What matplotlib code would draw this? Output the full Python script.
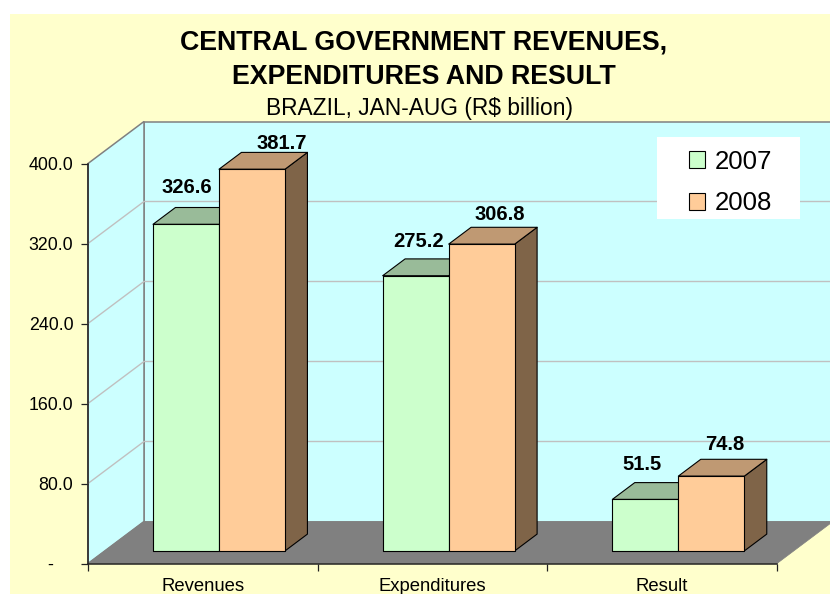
import matplotlib
matplotlib.use("Agg")
import matplotlib.pyplot as plt
from matplotlib.patches import Polygon, Rectangle

plt.rcParams['font.family'] = ['Liberation Sans', 'DejaVu Sans']

categories = ['Revenues', 'Expenditures', 'Result']
series_names = ['2007', '2008']
values_2007 = [326.6, 275.2, 51.5]
values_2008 = [381.7, 306.8, 74.8]
y_ticks = [0, 80, 160, 240, 320, 400]
y_tick_labels = ['-    ', '80.0', '160.0', '240.0', '320.0', '400.0']
title_lines = ['CENTRAL GOVERNMENT REVENUES,', 'EXPENDITURES AND RESULT']
subtitle = 'BRAZIL, JAN-AUG (R$ billion)'

W, H = 830, 594
CAT_PX = 689 / 3          # pixels per category
X0_PX, Y0_PX = 88, 563.5  # pixel position of the chart origin
DEPTH_DX = 56 / CAT_PX    # oblique offset of the back wall, in category units
DEPTH_DY = 42             # in value units (1 unit = 1 px)
BAR_W = 66 / CAT_PX
BAR_SHIFT = -0.6 / CAT_PX
BAR_DEPTH = (0.30, 0.70)  # front/back of the bars, as a share of floor depth

YELLOW, WALL, FLOOR = '#FFFFCC', '#CCFFFF', '#808080'
FRONT = ['#CCFFCC', '#FFCC99']
TOP = ['#99BB99', '#BF9973']
SIDE = ['#7F9A7F', '#7F6448']
GRID = '#C0C0C0'
DARK = '#222222'


def P(x, v, d=0.0):
    return (x + d * DEPTH_DX, v + d * DEPTH_DY)


fig = plt.figure(figsize=(W / 100, H / 100), dpi=100, facecolor='white')
fig.patches.append(Rectangle((10 / W, 0), 1 - 10 / W, 1 - 14 / H, transform=fig.transFigure,
                             facecolor=YELLOW, edgecolor='none', zorder=-5))
ax = fig.add_axes([0, 0, 1, 1])
ax.patch.set_visible(False)
ax.set_xlim(-X0_PX / CAT_PX, (W - X0_PX) / CAT_PX)
ax.set_ylim(Y0_PX - H, Y0_PX)

n = len(categories)
vmax = y_ticks[-1]
# back wall, side wall, floor
ax.add_patch(Polygon([P(0, 0, 1), P(n, 0, 1), P(n, vmax, 1), P(0, vmax, 1)],
                     facecolor=WALL, edgecolor=FLOOR, lw=1.1, zorder=1))
ax.add_patch(Polygon([P(0, 0), P(0, vmax), P(0, vmax, 1), P(0, 0, 1)],
                     facecolor=WALL, edgecolor=FLOOR, lw=1.1, zorder=1))
for t in y_ticks[1:-1]:
    ax.plot(*zip(P(0, t), P(0, t, 1), P(n, t, 1)), color=GRID, lw=1.0, zorder=2)
ax.add_patch(Polygon([P(0, 0), P(n, 0), P(n, 0, 1), P(0, 0, 1)],
                     facecolor=FLOOR, edgecolor=FLOOR, lw=0.5, zorder=3))

# bars
zb = 4
for i in range(n):
    for s, vals in enumerate((values_2007, values_2008)):
        v = vals[i]
        c = i + 0.5 + BAR_SHIFT
        x0 = c + (s - 1) * BAR_W
        x1 = x0 + BAR_W
        d0, d1 = BAR_DEPTH
        style = dict(edgecolor='black', lw=0.8, joinstyle='round', zorder=zb)
        ax.add_patch(Polygon([P(x1, 0, d0), P(x1, 0, d1), P(x1, v, d1), P(x1, v, d0)],
                             facecolor=SIDE[s], **style))
        ax.add_patch(Polygon([P(x0, v, d0), P(x1, v, d0), P(x1, v, d1), P(x0, v, d1)],
                             facecolor=TOP[s], **style))
        ax.add_patch(Polygon([P(x0, 0, d0), P(x1, 0, d0), P(x1, v, d0), P(x0, v, d0)],
                             facecolor=FRONT[s], **style))
        zb += 1

# value labels: hand-placed offsets from each bar's front top centre (px)
label_offsets = [[(0, 37), (29, 26)], [(2, 34), (17, 30)], [(-4, 35), (13, 32)]]
for i in range(n):
    for s, vals in enumerate((values_2007, values_2008)):
        dx, dy = label_offsets[i][s]
        x = i + 0.5 + (s - 0.5) * BAR_W
        xp, yp = P(x, vals[i], BAR_DEPTH[0])
        ax.annotate(f'{vals[i]:.1f}', (xp, yp), xytext=(dx * 0.72, dy * 0.72),
                    textcoords='offset points', ha='center', va='center',
                    fontsize=14.5, fontweight='bold', color='black', zorder=30)

# axes
for side in ('top', 'right'):
    ax.spines[side].set_visible(False)
ax.spines['left'].set_position(('data', 0))
ax.spines['bottom'].set_position(('data', 0))
ax.spines['left'].set_bounds(0, vmax)
ax.spines['bottom'].set_bounds(0, n)
for side in ('left', 'bottom'):
    ax.spines[side].set_color(DARK)
    ax.spines[side].set_linewidth(1.1)
    ax.spines[side].set_zorder(20)
ax.set_yticks(y_ticks, y_tick_labels, fontsize=12.8, color='black')
ax.tick_params(axis='y', length=5, width=0.9, color=DARK, pad=5.5)
ax.set_xticks(range(n + 1), [''] * (n + 1))
ax.set_xticks([i + 0.5 for i in range(n)], categories, minor=True, fontsize=13.3)
ax.tick_params(axis='x', which='major', length=5, width=0.9, color=DARK)
ax.tick_params(axis='x', which='minor', length=0, pad=10.5)

# titles
for line, py in zip(title_lines, (43, 77)):
    fig.text(424 / W, 1 - py / H, line, ha='center', va='center',
             fontsize=19.25, fontweight='bold', color='black')
fig.text(420 / W, 1 - 108 / H, subtitle, ha='center', va='center', fontsize=16.4, color='black')

# legend
box = Rectangle((657 / W, 1 - 219 / H), 143 / W, 82 / H, transform=fig.transFigure,
                facecolor='white', edgecolor='none', zorder=24)
ax.add_patch(box)
handles = [Rectangle((0, 0), 1, 1, facecolor=FRONT[k], edgecolor='black', lw=0.8) for k in range(2)]
leg = ax.legend(handles, series_names, loc='upper left',
                bbox_to_anchor=(689 / W, 1 - 150 / H), bbox_transform=fig.transFigure,
                fontsize=18.5, frameon=False, borderaxespad=0, borderpad=0, labelspacing=0.67,
                handlelength=0.64, handleheight=0.64, handletextpad=0.38)
leg.set_zorder(25)

fig.savefig('out.png', dpi=100, facecolor=fig.get_facecolor())
